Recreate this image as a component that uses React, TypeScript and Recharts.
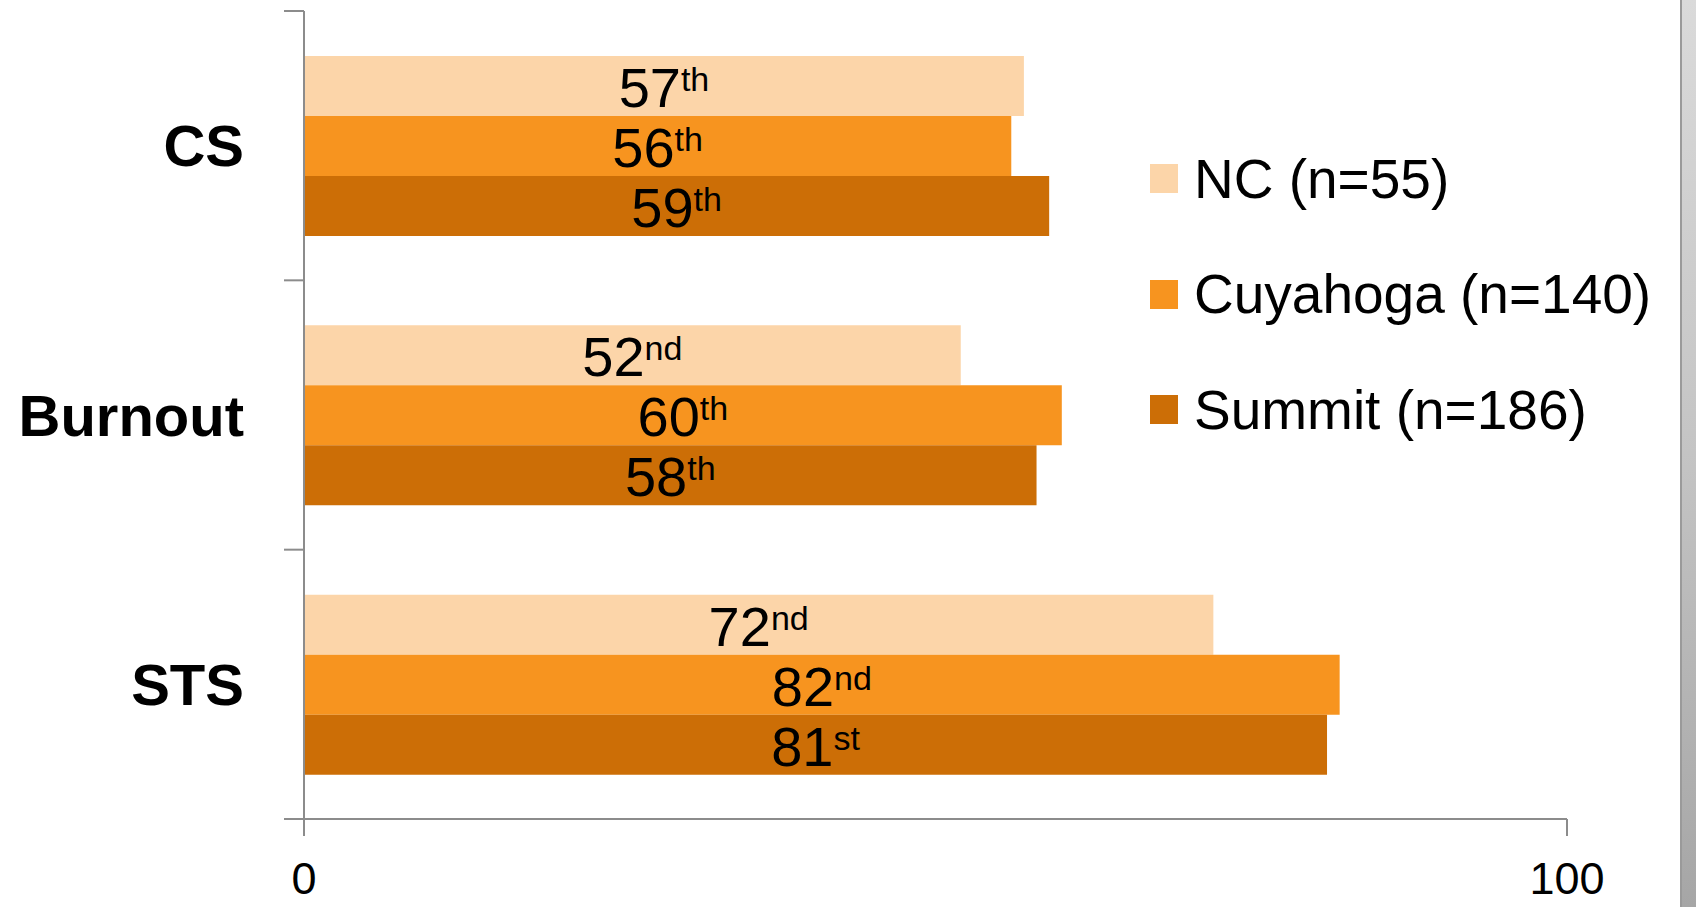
import React from 'react';
import { BarChart, Bar, XAxis, YAxis, Legend, LabelList } from 'recharts';

const categories = ['CS', 'Burnout', 'STS'];
const ncValues = [57, 52, 72];
const cuyahogaValues = [56, 60, 82];
const summitValues = [59, 58, 81];
const seriesKeys = ['nc', 'cuyahoga', 'summit'];
const seriesNames = ['NC (n=55)', 'Cuyahoga (n=140)', 'Summit (n=186)'];
const seriesColors = ['#FCD5A9', '#F7941F', '#CC6E06'];
const xTicks = [0, 100];

const data = categories.map((c, i) => ({
  category: c,
  nc: ncValues[i],
  cuyahoga: cuyahogaValues[i],
  summit: summitValues[i],
}));

const FONT = '"Liberation Sans", Arial, sans-serif';
const AXIS = '#8c8c8c';
const W = 1696;
const H = 907;

function ordinalSuffix(n: number): string {
  const m100 = n % 100;
  if (m100 >= 11 && m100 <= 13) return 'th';
  const m = n % 10;
  if (m === 1) return 'st';
  if (m === 2) return 'nd';
  if (m === 3) return 'rd';
  return 'th';
}

const renderBarLabel = (props: any) => {
  const { x, y, width, height, value } = props;
  const cx = Number(x) + Number(width) / 2;
  const baseline = Number(y) + Number(height) / 2 + 21;
  return (
    <text x={cx} y={baseline} textAnchor="middle" fontFamily={FONT} fill="#000">
      <tspan fontSize={56}>{value}</tspan>
      <tspan fontSize={34} dy={-16}>{ordinalSuffix(Number(value))}</tspan>
    </text>
  );
};

const CategoryTick = (props: any) => {
  const { x, y, payload, index, visibleTicksCount } = props;
  const half = typeof payload?.offset === 'number' && payload.offset > 0 ? payload.offset : 808 / 6;
  const lx1 = Number(x) + 40;
  const lx2 = Number(x) + 60;
  return (
    <g>
      <text
        x={x}
        y={y}
        dy="0.355em"
        textAnchor="end"
        fontFamily={FONT}
        fontWeight="bold"
        fontSize={58}
        fill="#000"
      >
        {payload.value}
      </text>
      <line x1={lx1} x2={lx2} y1={y - half} y2={y - half} stroke={AXIS} strokeWidth={2} />
      {index === visibleTicksCount - 1 && (
        <line x1={lx1} x2={lx2} y1={y + half} y2={y + half} stroke={AXIS} strokeWidth={2} />
      )}
    </g>
  );
};

const renderLegend = (props: any) => {
  const given: any[] = props && props.payload ? props.payload : [];
  const entries = seriesNames.map((n, i) => {
    const found = given.find((e) => e.value === n);
    return { value: n, color: found && found.color ? found.color : seriesColors[i] };
  });
  return (
    <div style={{ display: 'flex', flexDirection: 'column' }}>
      {entries.map((entry, i) => (
        <div
          key={i}
          style={{ display: 'flex', alignItems: 'center', height: 115.5, whiteSpace: 'nowrap' }}
        >
          <div style={{ width: 28, height: 29, background: entry.color, marginRight: 16, flex: 'none' }} />
          <span style={{ fontFamily: FONT, fontSize: 55, color: '#000' }}>{entry.value}</span>
        </div>
      ))}
    </div>
  );
};

export default function App() {
  return (
    <div
      style={{
        position: 'absolute',
        left: 0,
        top: 0,
        width: W,
        height: H,
        background: '#ffffff',
        overflow: 'hidden',
      }}
    >
      <BarChart
        width={W}
        height={H}
        data={data}
        layout="vertical"
        margin={{ top: 11, right: 129, bottom: 0, left: 0 }}
        barCategoryGap="16.7%"
        barGap={0}
      >
        <XAxis
          type="number"
          domain={[0, 100]}
          ticks={xTicks}
          height={88}
          tickSize={17}
          tickMargin={26}
          axisLine={{ stroke: AXIS, strokeWidth: 2 }}
          tickLine={{ stroke: AXIS, strokeWidth: 2 }}
          tick={{ fontSize: 45, fill: '#000', fontFamily: FONT }}
        />
        <YAxis
          type="category"
          dataKey="category"
          width={304}
          tickSize={0}
          tickMargin={60}
          axisLine={{ stroke: AXIS, strokeWidth: 2 }}
          tickLine={false}
          tick={(p: any) => <CategoryTick {...p} />}
        />
        <Legend
          layout="vertical"
          align="center"
          verticalAlign="middle"
          wrapperStyle={{ left: 1150, top: 121, width: 540 }}
          content={renderLegend}
        />
        {seriesKeys.map((k, i) => (
          <Bar
            key={k}
            dataKey={k}
            name={seriesNames[i]}
            fill={seriesColors[i]}
            isAnimationActive={false}
          >
            <LabelList dataKey={k} content={renderBarLabel} />
          </Bar>
        ))}
      </BarChart>
      <div
        style={{
          position: 'absolute',
          left: 1680,
          top: 0,
          width: 16,
          height: H,
          background: 'linear-gradient(to bottom, #dadada 0%, #c4c4c4 50%, #a6a6a6 100%)',
          borderLeft: '2px solid #9a9a9a',
          boxSizing: 'border-box',
        }}
      />
    </div>
  );
}
